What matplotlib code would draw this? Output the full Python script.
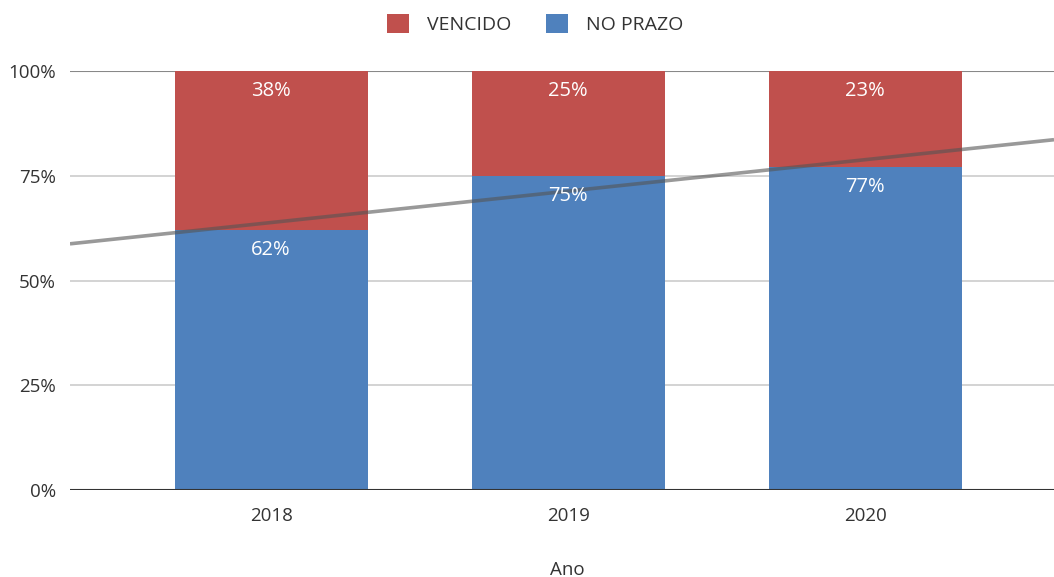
import matplotlib.pyplot as plt
import numpy as np

plt.rcParams['font.family'] = ['Open Sans', 'DejaVu Sans']

## Data
anos     = ['2018', '2019', '2020']
no_prazo = np.array([62, 75, 77])
vencido  = np.array([38, 25, 23])

c_venc  = '#c0504d'
c_prazo = '#4f81bd'

fig = plt.figure(figsize=(10.54, 5.77), dpi=100)
ax = fig.add_axes([70/1054, 87/577, 1 - 70/1054, (490-71)/577])

x = np.arange(len(anos))
b1 = ax.bar(x, no_prazo, width=0.65, color=c_prazo, label='NO PRAZO', zorder=2)
b2 = ax.bar(x, vencido, width=0.65, bottom=no_prazo, color=c_venc, label='VENCIDO', zorder=2)

for xi, v in zip(x, no_prazo):
    ax.annotate('%i%%' % v, (xi, v), xytext=(0, -20), textcoords='offset pixels',
                ha='center', va='center', color='white', fontsize=14.5, zorder=4)
for xi, v, b in zip(x, vencido, no_prazo):
    ax.annotate('%i%%' % v, (xi, v + b), xytext=(0, -20), textcoords='offset pixels',
                ha='center', va='center', color='white', fontsize=14.5, zorder=4)

## Linear trend of NO PRAZO
xlim = (-0.677, 2.636)
coef = np.polyfit(x, no_prazo, 1)
xt = np.array(xlim)
ax.plot(xt, np.polyval(coef, xt), color='#555555', alpha=0.6, linewidth=2.6,
        zorder=3, solid_capstyle='butt')

ax.set_xlim(*xlim)
ax.set_ylim(0, 100)
ax.set_yticks([0, 25, 50, 75, 100])
ax.set_yticklabels(['0%', '25%', '50%', '75%', '100%'])
ax.set_xticks(x)
ax.set_xticklabels(anos)
ax.tick_params(length=0, labelsize=13.5, colors='#333333')
ax.tick_params(axis='x', pad=12)
ax.tick_params(axis='y', pad=10)

for y in [25, 50, 75]:
    ax.axhline(y, color='#cccccc', linewidth=1.2, zorder=1)
ax.axhline(100, color='#888888', linewidth=1.5, zorder=1)
ax.axhline(0, color='#333333', linewidth=1.5, zorder=3)
for s in ax.spines.values():
    s.set_visible(False)

ax.set_xlabel('Ano', fontsize=13.5, color='#333333', va='center')
ax.xaxis.set_label_coords((567-70)/984, -80/419)

h, l = ax.get_legend_handles_labels()
fig.legend(h[::-1], l[::-1], loc='center', bbox_to_anchor=(535/1054, 1 - 24/577), ncol=2,
           frameon=False, fontsize=14, handlelength=1.15, handleheight=1.15,
           columnspacing=1.8, handletextpad=0.9, labelcolor='#333333')

fig.savefig('out.png', dpi=100)
